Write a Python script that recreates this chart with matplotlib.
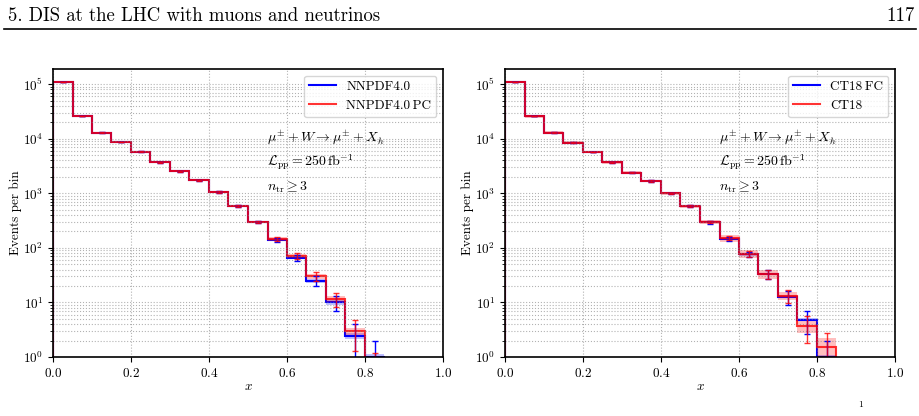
import numpy as np
import matplotlib
matplotlib.use("Agg")
import matplotlib.pyplot as plt
from matplotlib.lines import Line2D

plt.rcParams.update({
    "font.family": ["cmr10", "DejaVu Serif"],
    "mathtext.fontset": "cm",
    "axes.formatter.use_mathtext": True,
    "axes.unicode_minus": False,
})

# ---------------- data ----------------
bin_edges = [0.0, 0.05, 0.10, 0.15, 0.20, 0.25, 0.30, 0.35, 0.40, 0.45,
             0.50, 0.55, 0.60, 0.65, 0.70, 0.75, 0.80, 0.85]

# left panel
nnpdf40 = [1.1e5, 2.6e4, 1.3e4, 8.7e3, 5.8e3, 3.7e3, 2.55e3, 1.75e3, 1.05e3,
           585, 300, 142, 66, 25, 10, 2.45, 1.0]
nnpdf40_pc = [1.1e5, 2.6e4, 1.3e4, 8.7e3, 5.8e3, 3.7e3, 2.55e3, 1.75e3, 1.05e3,
              585, 300, 145, 71, 30, 11.5, 3.0, 0.5]
nnpdf40_unc = [0.02, 0.02, 0.02, 0.02, 0.02, 0.02, 0.02, 0.03, 0.03,
               0.03, 0.04, 0.05, 0.06, 0.08, 0.10, 0.12, 0.15]
nnpdf40_pc_unc = [0.02, 0.02, 0.02, 0.02, 0.02, 0.02, 0.03, 0.03, 0.03,
                  0.04, 0.05, 0.07, 0.09, 0.10, 0.12, 0.15, 0.30]

# right panel
ct18fc = [1.1e5, 2.6e4, 1.3e4, 8.5e3, 5.7e3, 3.7e3, 2.4e3, 1.68e3, 1.0e3,
          575, 295, 148, 76, 33, 12.7, 4.8, 1.0]
ct18 = [1.1e5, 2.6e4, 1.3e4, 8.5e3, 5.7e3, 3.7e3, 2.4e3, 1.68e3, 1.0e3,
        575, 300, 150, 78, 33, 13.2, 3.7, 1.5]
ct18fc_unc = [0.02, 0.02, 0.02, 0.02, 0.02, 0.02, 0.02, 0.03, 0.03,
              0.03, 0.03, 0.04, 0.05, 0.05, 0.06, 0.06, 0.10]
ct18_unc = [0.06, 0.07, 0.05, 0.05, 0.05, 0.05, 0.06, 0.06, 0.07,
            0.08, 0.10, 0.15, 0.17, 0.20, 0.17, 0.25, 0.50]

panels = [
    (("NNPDF4.0", nnpdf40, nnpdf40_unc), ("NNPDF4.0\u2009PC", nnpdf40_pc, nnpdf40_pc_unc)),
    (("CT18\u2009FC", ct18fc, ct18fc_unc), ("CT18", ct18, ct18_unc)),
]

x_ticks = [0.0, 0.2, 0.4, 0.6, 0.8, 1.0]

# ---------------- figure ----------------
fig = plt.figure(figsize=(9.2, 4.16), dpi=100)

fig.text(8 / 920, 1 - 21 / 416, "5. DIS at the LHC with muons and neutrinos",
         fontsize=13.5, va="baseline", ha="left")
fig.text(915 / 920, 1 - 21 / 416, "117", fontsize=13.5, va="baseline", ha="right")
fig.add_artist(Line2D([4 / 920, 916 / 920], [1 - 28.5 / 416] * 2,
                      color="black", lw=1.2, transform=fig.transFigure))
fig.text(858 / 920, 1 - 409 / 416, "1", fontsize=7, va="bottom", ha="left")

edges = np.array(bin_edges)
centers = 0.5 * (edges[:-1] + edges[1:])

ax_lefts = [53 / 920, 505 / 920]
for axl, ((lab_b, vb, ub), (lab_r, vr, ur)) in zip(ax_lefts, panels):
    ax = fig.add_axes([axl, 1 - 357 / 416, 390 / 920, 288 / 416])
    ax.set_yscale("log")
    ax.set_xlim(0, 1)
    ax.set_ylim(1, 1.9e5)

    for vals, unc, col, lab, a in [(vb, ub, "blue", lab_b, 1.0),
                                   (vr, ur, "red", lab_r, 0.8)]:
        v = np.array(vals)
        u = np.array(unc)
        ax.stairs(v * (1 + u), edges, baseline=v * (1 - u), fill=True,
                  color=col, alpha=0.25, lw=0)
        ax.stairs(v, edges, baseline=1e-3, color=col, lw=1.5, alpha=a, label=lab)
        ax.errorbar(centers, v, yerr=np.sqrt(v), fmt="none", ecolor=col,
                    elinewidth=1.0, capsize=2, capthick=1.0, alpha=a)

    ax.set_xticks(x_ticks)
    ax.grid(True, which="both", ls=":", color="gray", lw=0.8, alpha=0.6)
    ax.tick_params(labelsize=9.5)
    for s in ax.spines.values():
        s.set_linewidth(1.2)
    ax.set_xlabel(r"$x$", fontsize=9.5, labelpad=1)
    ax.set_ylabel("Events per bin", fontsize=9.5, labelpad=1)

    handles = [Line2D([], [], color="blue", lw=1.5),
               Line2D([], [], color="red", lw=1.5, alpha=0.8)]
    ax.legend(handles, [lab_b, lab_r], loc="upper right", fontsize=9.5)

    tx = 0.548
    ax.text(tx, 0.76, r"$\mu^{\pm} + W \rightarrow \mu^{\pm} + X_h$",
            transform=ax.transAxes, fontsize=10, va="center")
    ax.text(tx, 0.677, r"$\mathcal{L}_{\rm pp} = 250\,{\rm fb}^{-1}$",
            transform=ax.transAxes, fontsize=10, va="center")
    ax.text(tx, 0.59, r"$n_{\rm tr} \geq 3$",
            transform=ax.transAxes, fontsize=10, va="center")

fig.savefig("out.png", dpi=100)
